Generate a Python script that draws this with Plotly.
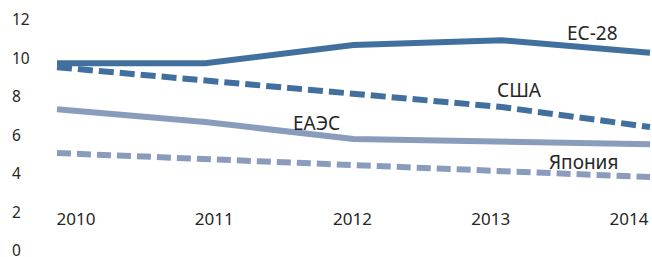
import plotly.graph_objects as go

years = ["2010", "2011", "2012", "2013", "2014"]
x_vals = [2010, 2011, 2012, 2013, 2014]
eu28 = [9.7, 9.7, 10.65, 10.9, 10.25]
usa = [9.5, 8.83, 8.16, 7.43, 6.39]
eaeu = [7.32, 6.65, 5.77, 5.66, 5.5]
japan = [5.04, 4.73, 4.36, 4.05, 3.79]
y_ticks = [0, 2, 4, 6, 8, 10, 12]

DARK = "#41709E"
LIGHT = "#8A9CBC"
FONT = "Noto Sans"
TXT = "#262626"

fig = go.Figure()
series = [
    ("ЕС-28", eu28, DARK, "solid"),
    ("США", usa, DARK, "15px,6px"),
    ("ЕАЭС", eaeu, LIGHT, "solid"),
    ("Япония", japan, LIGHT, "14px,6px"),
]
for name, vals, col, dash in series:
    fig.add_trace(go.Scatter(x=x_vals, y=vals, mode="lines", name=name,
                             line=dict(color=col, width=6, dash=dash),
                             hoverinfo="skip"))

# invisible trace carrying the category label axis
fig.add_trace(go.Scatter(x=list(range(len(years))), y=[None] * len(years),
                         xaxis="x2", yaxis="y", showlegend=False,
                         hoverinfo="skip"))

labels = [
    ("ЕС-28", 2013.61, 11.3),
    ("США", 2013.12, 8.29),
    ("ЕАЭС", 2011.75, 6.58),
    ("Япония", 2013.55, 4.55),
]
for text, ax, ay in labels:
    fig.add_annotation(x=ax, y=ay, text=text, showarrow=False,
                       xref="x", yref="y",
                       font=dict(family=FONT, size=19, color=TXT))

H = 265
fig.update_layout(
    width=652, height=H,
    margin=dict(l=9, r=0, t=0, b=0, autoexpand=False),
    paper_bgcolor="white", plot_bgcolor="white",
    showlegend=False,
    xaxis=dict(range=[2010 - 48 * 4 / 593, 2014 + 2 * 4 / 593],
               showticklabels=False, showgrid=False, zeroline=False,
               showline=False, ticks="", automargin=False),
    xaxis2=dict(range=[-67 * 4 / 553, 4 + 23 * 4 / 553],
                tickvals=list(range(len(years))), ticktext=years,
                anchor="free", position=(H - 207) / H, overlaying="x",
                showgrid=False, zeroline=False, showline=False, ticks="",
                automargin=False,
                tickfont=dict(family=FONT, size=17, color=TXT)),
    yaxis=dict(range=[12.99 - H / 19.25, 12.99], tickvals=y_ticks,
               ticklabelposition="inside", automargin=False,
               ticklabelshift=1,
               showgrid=False, zeroline=False, showline=False, ticks="",
               tickfont=dict(family=FONT, size=15.5, color=TXT)),
)

fig.write_html("out.html",
               config={"displayModeBar": False, "staticPlot": True},
               post_script="document.body.style.margin='0';"
                           "document.body.style.overflow='hidden';")
